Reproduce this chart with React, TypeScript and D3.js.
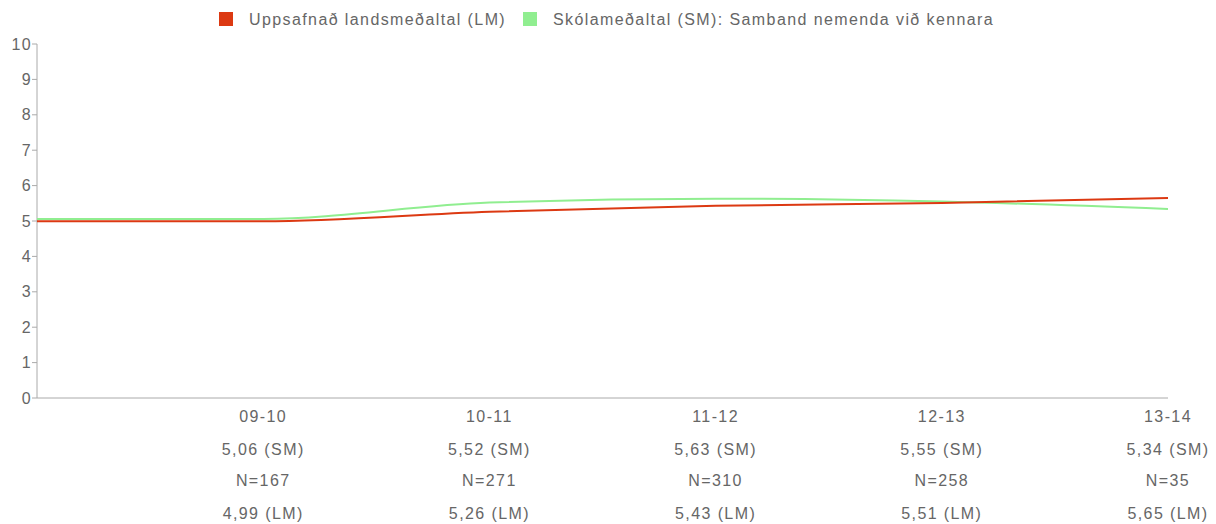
import * as d3 from 'd3'

// first category is a blank lead-in point (drawn at the axis)
const categories = ['', '09-10', '10-11', '11-12', '12-13', '13-14']
const smValues = [5.06, 5.06, 5.52, 5.63, 5.55, 5.34]
const lmValues = [4.99, 4.99, 5.26, 5.43, 5.51, 5.65]
const nValues = [null, 167, 271, 310, 258, 35]
const yTicks = [0, 1, 2, 3, 4, 5, 6, 7, 8, 9, 10]

const LM_LABEL = 'Uppsafnað landsmeðaltal (LM)'
const SM_LABEL = 'Skólameðaltal (SM): Samband nemenda við kennara'

const RED = '#dc3912'
const GREEN = '#90ee90'
const TEXT = '#666'
const AXIS = '#aaa'
const FONT = '"Liberation Sans", Arial, Helvetica, sans-serif'
const FS = 16
const LS = 1.4

const fmt = (v: number) => v.toFixed(2).replace('.', ',')

export default function App() {
  const width = 1216
  const height = 524
  const margin = { top: 44, right: 48, bottom: 126, left: 37 }

  const x = d3.scalePoint<string>()
    .domain(categories)
    .range([margin.left, width - margin.right])
  const y = d3.scaleLinear()
    .domain([0, 10])
    .range([height - margin.bottom, margin.top])

  const line = d3.line<number>()
    .x((_, i) => x(categories[i]) ?? 0)
    .y(d => y(d))
    .curve(d3.curveMonotoneX)

  const y0 = y(0)

  return (
    <div style={{ position: 'absolute', left: 0, top: 0 }}>
      <svg
        width={width}
        height={height}
        style={{ display: 'block', fontFamily: FONT, letterSpacing: `${LS}px` }}
      >
        {/* legend */}
        <rect x={219} y={12} width={14} height={14} fill={RED} />
        <text x={249} y={19} dy="0.35em" fontSize={FS} fill={TEXT}>{LM_LABEL}</text>
        <rect x={523} y={12} width={14} height={14} fill={GREEN} />
        <text x={553} y={19} dy="0.35em" fontSize={FS} fill={TEXT}>{SM_LABEL}</text>

        {/* y axis */}
        <line x1={margin.left} x2={margin.left} y1={y(10)} y2={y0} stroke={AXIS} />
        {yTicks.map(t => (
          <g key={t}>
            <line x1={margin.left - 5} x2={margin.left} y1={y(t)} y2={y(t)} stroke={AXIS} />
            <text x={margin.left - 5} y={y(t)} dy="0.35em" textAnchor="end" fontSize={FS} fill={TEXT}>
              {t}
            </text>
          </g>
        ))}

        {/* x axis */}
        <line x1={margin.left} x2={width - margin.right} y1={y0} y2={y0} stroke={AXIS} />

        {/* series */}
        <path d={line(smValues) ?? ''} fill="none" stroke={GREEN} strokeWidth={2} />
        <path d={line(lmValues) ?? ''} fill="none" stroke={RED} strokeWidth={2} />

        {/* category labels with stats */}
        {categories.map((c, i) => {
          if (!c) return null
          const cx = x(c) ?? 0
          return (
            <g key={c} fontSize={FS} fill={TEXT} textAnchor="middle">
              <text x={cx} y={y0 + 18} dy="0.35em">{c}</text>
              <text x={cx} y={y0 + 51} dy="0.35em">{fmt(smValues[i])} (SM)</text>
              <text x={cx} y={y0 + 82} dy="0.35em">N={nValues[i]}</text>
              <text x={cx} y={y0 + 115} dy="0.35em">{fmt(lmValues[i])} (LM)</text>
            </g>
          )
        })}
      </svg>
    </div>
  )
}
